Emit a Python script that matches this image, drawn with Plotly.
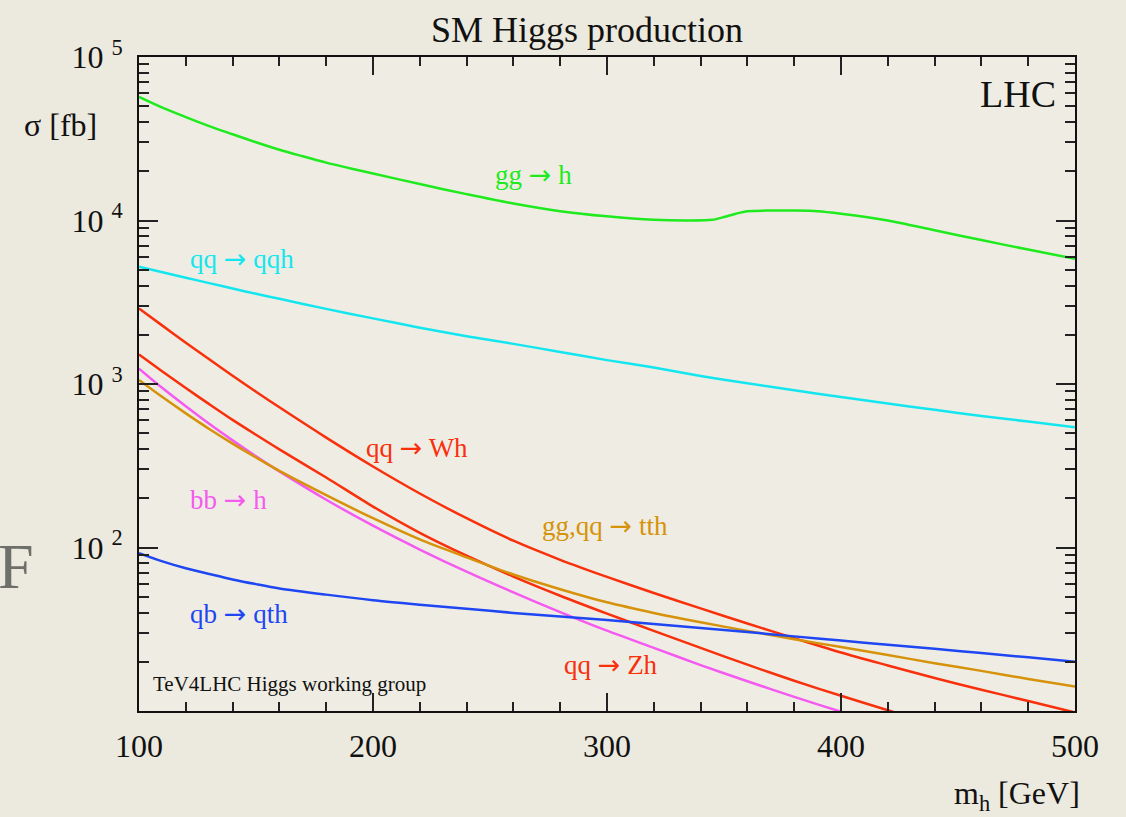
import plotly.graph_objects as go

# Higgs mass grid [GeV] shared by most production channels
mh = [100, 110, 120, 130, 140, 150, 160, 180, 200, 220, 240, 260,
      280, 300, 320, 340, 360, 380, 400, 420, 440, 460, 480, 500]

# gluon fusion has its own, denser grid around the t-tbar threshold
mh_gg = [100, 110, 120, 130, 140, 150, 160, 170, 180, 190, 200, 220, 240,
         260, 280, 300, 320, 335, 345, 350, 355, 360, 370, 380, 390, 400,
         420, 440, 460, 480, 500]
sigma_gg_h = [57000, 49000, 42900, 37800, 33700, 30100, 27100, 24700, 22600,
              20900, 19400, 16700, 14500, 12700, 11400, 10600, 10100, 10000,
              10100, 10500, 11000, 11400, 11500, 11500, 11400, 11000, 10000,
              8710, 7590, 6640, 5830]

# cross sections [fb]
sigma_qq_qqh = [5220, 4830, 4470, 4140, 3840, 3560, 3320, 2880, 2520, 2210,
                1960, 1760, 1570, 1400, 1260, 1120, 1010, 915, 832, 760, 695,
                638, 589, 543]
sigma_qq_Wh = [2900, 2275, 1790, 1416, 1122, 897, 720, 470, 313, 214, 151,
               110, 84.1, 66.1, 52.7, 42.4, 34.3, 27.9, 22.8, 19.0, 15.9,
               13.5, 11.5, 9.8]
sigma_qq_Zh = [1514, 1194, 944, 753, 603, 489, 398, 268, 178, 123, 89.1,
               66.4, 50.7, 39.4, 30.9, 24.3, 19.2, 15.3, 12.4, 10.1, 8.3,
               6.9, 5.8, 4.8]
sigma_bb_h = [1242, 944, 731, 571, 452, 361, 292, 196, 136, 97.2, 71.1, 53.1,
              40.3, 31.0, 24.3, 19.1, 15.2, 12.2, 9.9, 8.1, 6.6, 5.4, 4.5, 3.7]
sigma_tth = [1059, 832, 661, 531, 432, 355, 294, 209, 151, 112, 87.1, 68.4,
             55.6, 46.2, 39.8, 34.9, 30.9, 27.5, 24.6, 22.0, 19.6, 17.6,
             15.7, 14.1]
sigma_qb_qth = [92.3, 82.2, 74.6, 68.9, 63.8, 59.7, 56.2, 51.5, 47.6, 44.7,
                42.2, 39.8, 37.8, 36.0, 34.1, 32.2, 30.4, 28.6, 27.0, 25.4,
                24.0, 22.6, 21.3, 20.0]

x_ticks = [100, 200, 300, 400, 500]
y_ticks = [1e2, 1e3, 1e4, 1e5]
y_ticktext = ["10 <sup>2</sup>", "10 <sup>3</sup>", "10 <sup>4</sup>",
              "10 <sup>5</sup>"]

GREEN = "#1EEA1E"
CYAN = "#14E6F0"
RED = "#F8300C"
MAGENTA = "#F55AF0"
GOLD = "#D6920A"
BLUE = "#1E46F2"
SERIF = "Liberation Serif, Times New Roman, serif"
ARROW = '<span style="font-family:DejaVu Sans">→</span>'

channels = [
    (mh_gg, sigma_gg_h, GREEN),
    (mh, sigma_qq_qqh, CYAN),
    (mh, sigma_qq_Wh, RED),
    (mh, sigma_qq_Zh, RED),
    (mh, sigma_bb_h, MAGENTA),
    (mh, sigma_tth, GOLD),
    (mh, sigma_qb_qth, BLUE),
]

W, H = 1126, 817
ML, MR, MT, MB = 139, 51, 57, 106
PW, PH = W - ML - MR, H - MT - MB


def px_x(px):
    """pixel column -> paper x (relative to the plotting area)"""
    return (px - ML) / PW


def px_y(py):
    """pixel row -> paper y (relative to the plotting area)"""
    return (H - MB - py) / PH


fig = go.Figure()
for xs, ys, col in channels:
    fig.add_trace(go.Scatter(
        x=xs, y=ys, mode="lines",
        line=dict(color=col, width=2.5, shape="spline", smoothing=0.8),
        showlegend=False, hoverinfo="skip",
    ))

# curve labels (pixel centres)
labels = [
    ("gg " + ARROW + " h", 533, 174, GREEN),
    ("qq " + ARROW + " qqh", 242, 258, CYAN),
    ("qq " + ARROW + " Wh", 417, 447, RED),
    ("bb " + ARROW + " h", 228, 499, MAGENTA),
    ("gg,qq " + ARROW + " tth", 605, 525, GOLD),
    ("qb " + ARROW + " qth", 239, 613, BLUE),
    ("qq " + ARROW + " Zh", 611, 664, RED),
]
for text, px, py, col in labels:
    fig.add_annotation(text=text, x=px_x(px), y=px_y(py), xref="paper",
                       yref="paper", xanchor="center", yanchor="middle",
                       showarrow=False,
                       font=dict(family=SERIF, size=27, color=col))

fig.add_annotation(text="TeV4LHC Higgs working group", x=px_x(151),
                   y=px_y(684), xref="paper", yref="paper", xanchor="left",
                   yanchor="middle", showarrow=False,
                   font=dict(family=SERIF, size=21, color="#111111"))
fig.add_annotation(text="LHC", x=px_x(1058), y=px_y(94), xref="paper",
                   yref="paper", xanchor="right", yanchor="middle",
                   showarrow=False,
                   font=dict(family=SERIF, size=38, color="#111111"))
fig.add_annotation(text="σ [fb]", x=px_x(60), y=px_y(125), xref="paper",
                   yref="paper", xanchor="center", yanchor="middle",
                   showarrow=False,
                   font=dict(family=SERIF, size=32, color="#111111"))
fig.add_annotation(text="m<sub>h</sub> [GeV]", x=px_x(1082), y=px_y(795),
                   xref="paper", yref="paper", xanchor="right",
                   yanchor="middle", showarrow=False,
                   font=dict(family=SERIF, size=32, color="#111111"))
fig.add_annotation(text="SM Higgs production", x=px_x(587), y=px_y(30),
                   xref="paper", yref="paper", xanchor="center",
                   yanchor="middle", showarrow=False,
                   font=dict(family=SERIF, size=36, color="#111111"))
# slide lettering at the left edge of the page
fig.add_annotation(text="F", x=px_x(-4), y=px_y(566), xref="paper",
                   yref="paper", xanchor="left", yanchor="middle",
                   showarrow=False,
                   font=dict(family=SERIF, size=64, color="#6E6E6A"))

axis_common = dict(
    showline=True, linecolor="#111111", linewidth=2, mirror="allticks",
    ticks="inside", tickcolor="#222222", tickwidth=1.5, showgrid=False,
    zeroline=False, tickfont=dict(family=SERIF, size=32, color="#111111"),
)

fig.update_xaxes(range=[100, 500], tickvals=x_ticks, ticklen=18,
                 ticklabelstandoff=6,
                 minor=dict(ticks="inside", dtick=20, ticklen=9,
                            tickcolor="#222222", tickwidth=1.5,
                            showgrid=False),
                 **axis_common)
fig.update_yaxes(type="log", range=[1, 5], tickvals=y_ticks,
                 ticktext=y_ticktext, ticklen=19, ticklabelstandoff=8,
                 minor=dict(ticks="inside", dtick="D1", ticklen=10,
                            tickcolor="#222222", tickwidth=1.5,
                            showgrid=False),
                 **axis_common)

fig.update_layout(
    width=W, height=H,
    margin=dict(l=ML, r=MR, t=MT, b=MB),
    paper_bgcolor="#ECE9DE",
    plot_bgcolor="#EFEDE3",
    showlegend=False,
)

fig.write_html("out.html")
